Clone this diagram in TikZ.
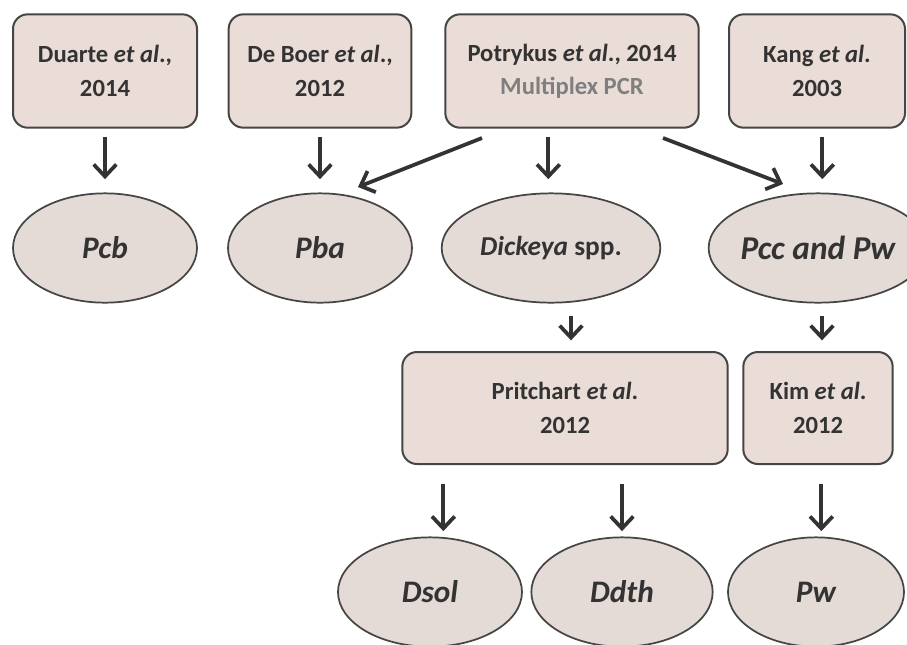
\documentclass[tikz,border=0pt]{standalone}
\usepackage{fontspec}
\setmainfont{Carlito}
\usetikzlibrary{shapes.geometric,arrows.meta}
\definecolor{boxfill}{HTML}{EADDD8}
\definecolor{ellfill}{HTML}{E4DAD6}
\definecolor{edge}{HTML}{454545}
\definecolor{txt}{HTML}{333333}
\definecolor{subtxt}{HTML}{7F7F7F}
\tikzset{
  ref/.style={draw=edge, line width=1.5pt, fill=boxfill, rounded corners=11pt,
    align=center, text=txt, font=\bfseries\fontsize{18.5}{25}\selectfont, inner sep=0pt},
  taxon/.style={ellipse, draw=edge, line width=1.3pt, fill=ellfill, text=txt,
    font=\bfseries\itshape\fontsize{23.5}{28}\selectfont, inner sep=0pt},
  link/.style={draw=txt, line width=2.8pt, -{Straight Barb[length=9pt,width=17pt,line width=2.8pt]}}
}
\begin{document}
\begin{tikzpicture}[x=0.75pt,y=-0.75pt]
\clip (0,0) rectangle (907,644);
\useasboundingbox (0,0) rectangle (907,644);
\fill[white] (0,0) rectangle (907,644);
% reference boxes
\node[ref, minimum width=138pt, minimum height=85pt] (duarte) at (105,71) {Duarte \textit{et al}.,\\2014};
\node[ref, minimum width=137pt, minimum height=85pt] (deboer) at (320,71) {De Boer \textit{et al}.,\\2012};
\node[ref, minimum width=190pt, minimum height=85pt] (potry) at (572,71) {Potrykus \textit{et al}., 2014\\\textcolor{subtxt}{Multiplex PCR}};
\node[ref, minimum width=132pt, minimum height=85pt] (kang) at (817,71) {Kang \textit{et al}.\\2003};
% taxa row 1
\node[taxon, minimum width=138pt, minimum height=82pt] (pcb) at (105,248) {Pcb};
\node[taxon, minimum width=138pt, minimum height=82pt] (pba) at (320,248) {Pba};
\node[taxon, minimum width=164pt, minimum height=82pt, font=\bfseries\itshape\fontsize{20.5}{24}\selectfont] (dick) at (551,248) {Dickeya \textup{spp.}};
\node[taxon, minimum width=132pt, minimum height=82pt, font=\bfseries\itshape\fontsize{25}{30}\selectfont] (pcc) at (818,248) {Pcc and Pw};
% second-level references
\node[ref, minimum width=244pt, minimum height=84pt] (pritch) at (565,408) {Pritchart \textit{et al}.\\2012};
\node[ref, minimum width=112pt, minimum height=84pt] (kim) at (818,408) {Kim \textit{et al}.\\2012};
% taxa row 2
\node[taxon, minimum width=138pt, minimum height=82pt] (dsol) at (430,592) {Dsol};
\node[taxon, minimum width=136pt, minimum height=82pt] (ddth) at (622,592) {Ddth};
\node[taxon, minimum width=132pt, minimum height=82pt] (pw) at (816,592) {Pw};
% connectors
\draw[link, shorten <=6pt, shorten >=10pt] (duarte.south) -- (pcb.north);
\draw[link, shorten <=6pt, shorten >=10pt] (deboer.south) -- (pba.north);
\draw[link, shorten <=6pt, shorten >=10pt] ([xshift=-2pt]potry.south -| dick.north) -- ([xshift=-2pt]dick.north);
\draw[link, shorten <=6pt, shorten >=10pt] ([xshift=4pt]kang.south) -- ([xshift=4pt]kang.south |- pcc.north);
\coordinate (pl) at (482,138);
\coordinate (plt) at (358,187);
\coordinate (pr) at (663,138);
\coordinate (prt) at (783,184);
\draw[link] (pl) -- (plt);
\draw[link] (pr) -- (prt);
\draw[link, shorten <=9pt, shorten >=8pt] ([xshift=15pt]dick.south) -- ([xshift=15pt]dick.south |- pritch.north);
\draw[link, shorten <=9pt, shorten >=8pt] ([xshift=3pt]pcc.south) -- ([xshift=3pt]pcc.south |- kim.north);
\draw[link, shorten <=14pt, shorten >=4pt] ([xshift=10pt]dsol.north |- pritch.south) -- ([xshift=10pt]dsol.north);
\draw[link, shorten <=14pt, shorten >=4pt] (ddth.north |- pritch.south) -- (ddth.north);
\draw[link, shorten <=14pt, shorten >=4pt] ([xshift=4pt]pw.north |- kim.south) -- ([xshift=4pt]pw.north);
\end{tikzpicture}
\end{document}
